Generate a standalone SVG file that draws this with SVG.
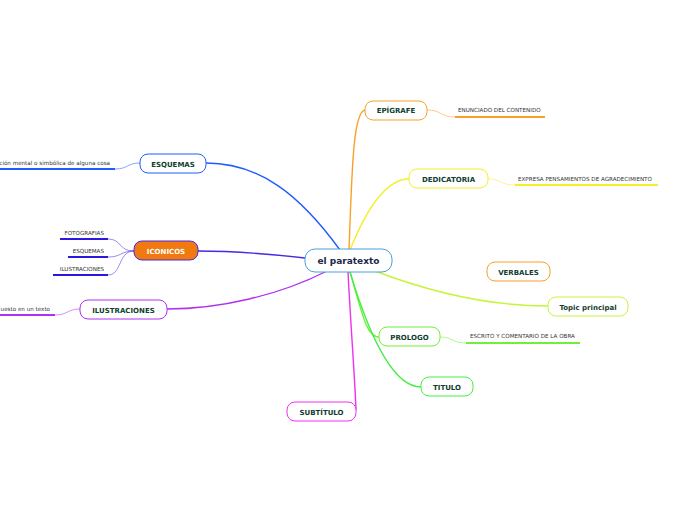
<svg xmlns="http://www.w3.org/2000/svg" width="696" height="520" viewBox="0 0 696 520">
<style>
.n{fill:#fff;stroke-width:1}
.t{font-family:"DejaVu Sans",Verdana,sans-serif;font-weight:bold;font-size:7px;fill:#0f3d2e;text-anchor:middle}
.s{font-family:"DejaVu Sans",Verdana,sans-serif;font-size:5.6px;fill:#333}
.c{fill:none;stroke-width:1.4}
.u{fill:none;stroke-width:1.8}
.k{fill:none;stroke-width:0.9;opacity:0.6}
</style>
<rect width="696" height="520" fill="#fff"/>
<g id="connectors">
<path class="c" stroke="#f7a12a" d="M349,250 C352,170 353,112 365,110"/>
<path class="c" stroke="#f5ee2a" d="M350,250 C368,205 388,179 409,179"/>
<path class="c" stroke="#1f5cff" d="M340,250 C300,195 260,163 206,163"/>
<path class="c" stroke="#4a28e0" d="M305,258 C260,253 225,251 198,251"/>
<path class="c" stroke="#b030f0" d="M327,271 C280,295 220,309 167,309"/>
<path class="c" stroke="#c5f53a" d="M375,271 C430,292 490,306 548,306"/>
<path class="c" stroke="#6ef03a" d="M350,272 C362,312 366,337 379,337"/>
<path class="c" stroke="#45ee45" d="M350,272 C372,345 395,387 421,387"/>
<path class="c" stroke="#f030f0" d="M348,272 C351,330 355,380 356,410"/>
<path class="k" stroke="#f7a12a" d="M427,110 C442,110 440,117 455,117"/>
<path class="u" stroke="#f7a12a" d="M455,117 L545,117"/>
<path class="k" stroke="#f5ee2a" d="M488,179 C502,179 500,185 515,185"/>
<path class="u" stroke="#f5ee2a" d="M515,185 L658,185"/>
<path class="k" stroke="#6ef03a" d="M440,337 C453,337 452,343 466,343"/>
<path class="u" stroke="#6ef03a" d="M466,343 L580,343"/>
<path class="k" stroke="#1f5cff" d="M140,163 C127,163 128,169 115,169"/>
<path class="u" stroke="#1f5cff" d="M115,169 L0,169"/>
<path class="k" stroke="#4a28e0" d="M134,251 C118,251 122,239 108,239"/>
<path class="k" stroke="#4a28e0" d="M134,251 C120,251 122,257 108,257"/>
<path class="k" stroke="#4a28e0" d="M134,251 C118,251 122,275 108,275"/>
<path class="u" stroke="#2a18e0" d="M108,239 L60,239"/>
<path class="u" stroke="#2a18e0" d="M108,257 L68,257"/>
<path class="u" stroke="#2a18e0" d="M108,275 L53,275"/>
<path class="k" stroke="#b030f0" d="M80,309 C67,309 68,315 55,315"/>
<path class="u" stroke="#b030f0" d="M55,315 L0,315"/>
</g>
<g id="central"><rect class="n" x="305" y="249" width="87" height="23" rx="10" stroke="#4a9fd8"/><text x="348.5" y="264" class="t" style="font-size:9px;fill:#1a2a4a">el paratexto</text></g>
<g id="epigrafe"><rect class="n" x="365" y="101" width="62" height="19" rx="8" stroke="#f7a12a"/><text x="396" y="113" class="t">EPÍGRAFE</text></g>
<g id="epigrafe-sub"><text x="458" y="111.5" class="s">ENUNCIADO DEL CONTENIDO</text></g>
<g id="dedicatoria"><rect class="n" x="409" y="169" width="79" height="19" rx="8" stroke="#f5ee2a"/><text x="448.5" y="181.5" class="t">DEDICATORIA</text></g>
<g id="dedicatoria-sub"><text x="518" y="180.5" class="s">EXPRESA PENSAMIENTOS DE AGRADECIMIENTO</text></g>
<g id="verbales"><rect class="n" x="487" y="262" width="63" height="19" rx="8" stroke="#f7a12a"/><text x="518.5" y="274.5" class="t">VERBALES</text></g>
<g id="topic"><rect class="n" x="548" y="297" width="80" height="19" rx="8" stroke="#c5f53a"/><text x="588" y="309.5" class="t">Topic principal</text></g>
<g id="prologo"><rect class="n" x="379" y="327" width="61" height="19" rx="8" stroke="#6ef03a"/><text x="409.5" y="339.5" class="t">PROLOGO</text></g>
<g id="prologo-sub"><text x="470" y="337.5" class="s">ESCRITO Y COMENTARIO DE LA OBRA</text></g>
<g id="titulo"><rect class="n" x="421" y="377" width="52" height="19" rx="8" stroke="#45ee45"/><text x="447" y="389.5" class="t">TITULO</text></g>
<g id="subtitulo"><rect class="n" x="287" y="402" width="69" height="19" rx="8" stroke="#f030f0"/><text x="321.5" y="414.5" class="t">SUBTÍTULO</text></g>
<g id="esquemas"><rect class="n" x="140" y="154" width="66" height="19" rx="8" stroke="#1f5cff"/><text x="173" y="166.5" class="t">ESQUEMAS</text></g>
<g id="esquemas-sub"><text x="110" y="164.5" class="s" text-anchor="end">ación mental o simbólica de alguna cosa</text></g>
<g id="iconicos"><rect x="134" y="241" width="64" height="19" rx="8" fill="#f07a10" stroke="#4a28e0" stroke-width="1"/><text x="166" y="253.5" class="t" style="fill:#fff">ICONICOS</text></g>
<g id="iconicos-sub1"><text x="104" y="234.5" class="s" text-anchor="end">FOTOGRAFIAS</text></g>
<g id="iconicos-sub2"><text x="104" y="252.5" class="s" text-anchor="end">ESQUEMAS</text></g>
<g id="iconicos-sub3"><text x="104" y="270.5" class="s" text-anchor="end">ILUSTRACIONES</text></g>
<g id="ilustraciones"><rect class="n" x="80" y="300" width="87" height="19" rx="8" stroke="#b030f0"/><text x="123.5" y="312.5" class="t">ILUSTRACIONES</text></g>
<g id="ilustraciones-sub"><text x="50" y="310.5" class="s" text-anchor="end">uesto en un texto</text></g>
</svg>
